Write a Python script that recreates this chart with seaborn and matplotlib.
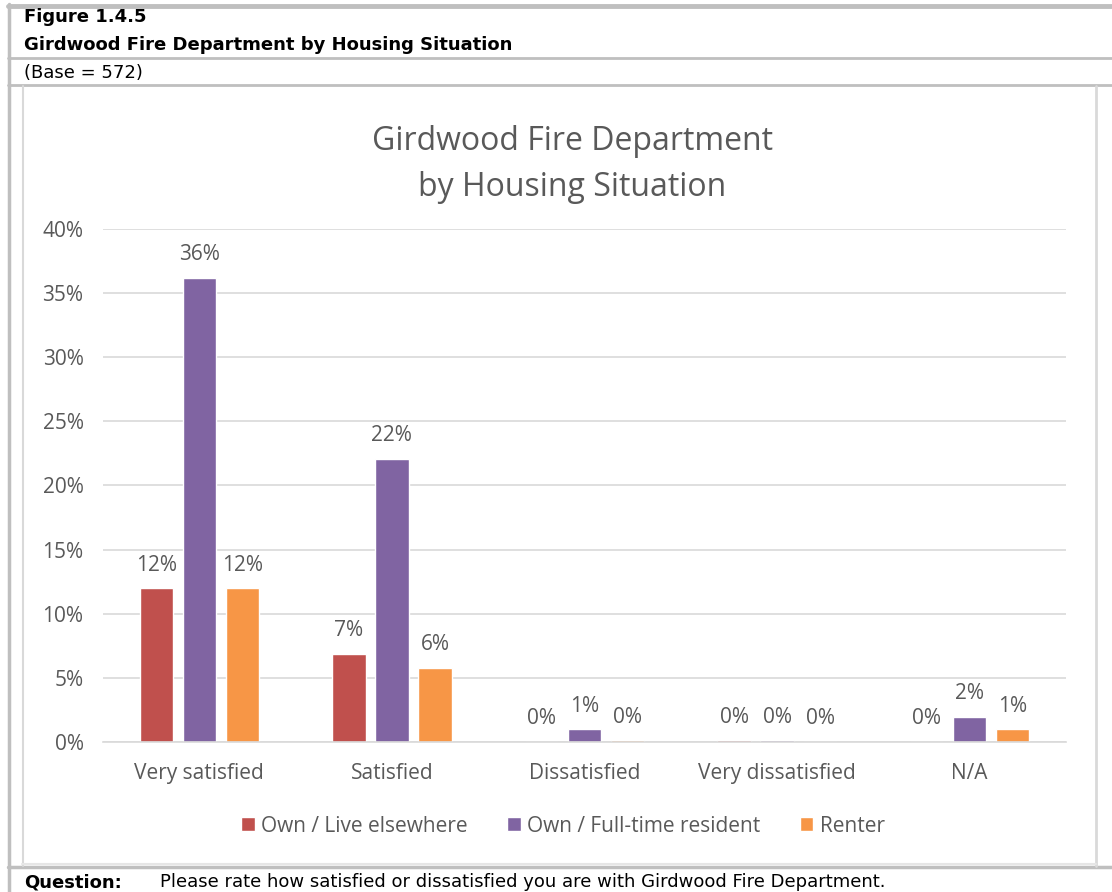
import matplotlib
matplotlib.use("Agg")
import matplotlib.pyplot as plt
import seaborn as sns
import pandas as pd
from matplotlib.lines import Line2D

# ---- data ----
categories = ["Very satisfied", "Satisfied", "Dissatisfied", "Very dissatisfied", "N/A"]
series_names = ["Own / Live elsewhere", "Own / Full-time resident", "Renter"]
own_elsewhere = [12.0, 6.9, 0.0, 0.15, 0.0]
own_fulltime = [36.2, 22.1, 1.0, 0.15, 1.95]
renter = [12.0, 5.8, 0.15, 0.0, 1.0]
yticks = [0, 5, 10, 15, 20, 25, 30, 35, 40]
colors = ["#C0504D", "#8064A2", "#F79646"]

rows = []
for name, vals in zip(series_names, [own_elsewhere, own_fulltime, renter]):
    for c, v in zip(categories, vals):
        rows.append({"category": c, "series": name, "value": v})
df = pd.DataFrame(rows)

sns.set_theme(style="white")
plt.rcParams["font.family"] = ["Open Sans", "DejaVu Sans"]
TXT = "#595959"
FS = 15

W, H = 1112, 892
fig = plt.figure(figsize=(W / 100, H / 100), dpi=100)
fig.patch.set_facecolor("white")

ax = fig.add_axes([103 / W, 1 - 742 / H, (1066 - 103) / W, (742 - 229) / H])
sns.barplot(data=df, x="category", y="value", hue="series", order=categories,
            hue_order=series_names, palette=colors, width=0.67, gap=0.22,
            saturation=1, ax=ax, legend=True, errorbar=None)

ax.set_ylim(0, 40)
ax.set_yticks(yticks)
ax.set_yticklabels([f"{t}%" for t in yticks])
ax.set_xlim(-0.5, len(categories) - 0.5)
ax.grid(axis="y", color="#D9D9D9", linewidth=1.2)
ax.set_axisbelow(True)
for s in ["top", "right", "left"]:
    ax.spines[s].set_visible(False)
ax.spines["bottom"].set_color("#D9D9D9")
ax.spines["bottom"].set_linewidth(1.2)
ax.tick_params(axis="y", length=0, pad=14, labelsize=FS, labelcolor=TXT)
ax.tick_params(axis="x", length=0, pad=15, labelsize=FS, labelcolor=TXT)
ax.set_xlabel("")
ax.set_ylabel("")

for cont, vals in zip(ax.containers, [own_elsewhere, own_fulltime, renter]):
    ax.bar_label(cont, labels=[f"{round(v)}%" for v in vals], padding=9,
                 fontsize=FS, color=TXT)

handles, labels = ax.get_legend_handles_labels()
ax.legend(handles, labels, loc="center", bbox_to_anchor=(563 / W, 1 - 826 / H),
          bbox_transform=fig.transFigure, ncol=3, frameon=False, fontsize=FS,
          labelcolor=TXT, handlelength=0.65, handleheight=0.65,
          handletextpad=0.3, columnspacing=1.9)

fig.text(572 / W, 1 - 141 / H, "Girdwood Fire Department", ha="center", va="center",
         fontsize=23, color=TXT)
fig.text(572 / W, 1 - 187 / H, "by Housing Situation", ha="center", va="center",
         fontsize=23, color=TXT)

# header / footer text
hf = ["DejaVu Sans"]
HS = 13
fig.text(24 / W, 1 - 17 / H, "Figure 1.4.5", ha="left", va="center", fontsize=HS,
         fontweight="bold", family=hf, color="black")
fig.text(24 / W, 1 - 45 / H, "Girdwood Fire Department by Housing Situation", ha="left",
         va="center", fontsize=HS, fontweight="bold", family=hf, color="black")
fig.text(24 / W, 1 - 73 / H, "(Base = 572)", ha="left", va="center", fontsize=HS,
         family=hf, color="black")
fig.text(24 / W, 1 - 882 / H, "Question:", ha="left", va="center", fontsize=HS,
         fontweight="bold", family=hf, color="black")
fig.text(160 / W, 1 - 882 / H,
         "Please rate how satisfied or dissatisfied you are with Girdwood Fire Department.",
         ha="left", va="center", fontsize=HS, family=hf, color="black")

# frame lines
def hline(y, x0, x1, color, lw):
    fig.add_artist(Line2D([x0 / W, x1 / W], [1 - y / H, 1 - y / H], color=color,
                          linewidth=lw, transform=fig.transFigure))

def vline(x, y0, y1, color, lw):
    fig.add_artist(Line2D([x / W, x / W], [1 - y0 / H, 1 - y1 / H], color=color,
                          linewidth=lw, transform=fig.transFigure))

G = "#BFBFBF"
hline(6, 8, W, G, 3.5)
hline(58, 8, W, G, 2)
hline(85, 8, W, G, 2)
hline(867, 8, W, G, 2.5)
vline(9, 4, H, G, 2.5)
vline(22.5, 86, 866, "#D9D9D9", 1.5)
vline(1096, 86, 866, "#D9D9D9", 2)
hline(864, 22, 1096, "#E6E6E6", 1.5)

fig.savefig("out.png", dpi=100, facecolor="white")
